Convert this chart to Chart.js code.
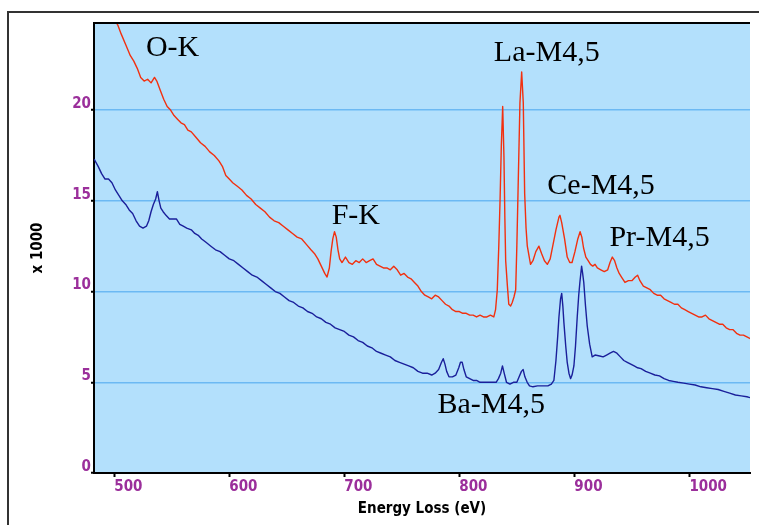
<!DOCTYPE html>
<html>
<head>
<meta charset="utf-8">
<script src="https://cdn.jsdelivr.net/npm/chart.js@4.4.1/dist/chart.umd.min.js"></script>
<style>
  html, body { margin: 0; padding: 0; background: #fff; }
  canvas { display: block; }
</style>
</head>
<body>
<canvas id="c" width="759" height="525"></canvas>
<script>
// EELS spectrum, two traces, counts in thousands

const redE = [483, 492, 500, 503, 506, 510, 514, 517, 520, 523, 526, 529, 532, 535, 537, 540, 543, 546, 549, 552,
  555, 558, 561, 564, 567, 571, 575, 579, 583, 587, 591, 594, 597, 600, 603, 607, 611, 615, 619, 623,
  627, 631, 635, 639, 643, 647, 651, 655, 659, 663, 667, 671, 674, 677, 680, 683, 685, 687, 688.5, 690,
  691.5, 693, 694.5, 696, 698, 701, 704, 707, 710, 713, 716, 719, 722, 725, 728, 731, 734, 737, 740, 743,
  746, 749, 752, 755, 758, 761, 764, 767, 770, 773, 776, 779, 782, 785, 788, 791, 794, 797, 800, 803,
  806, 809, 812, 815, 818, 821, 824, 827, 830, 831.5, 833, 834.3, 835.4, 836.5, 837.7, 838.8, 839.6, 840.3, 841.8, 843,
  844.6, 846, 847.5, 849, 850, 851, 852.7, 854.2, 855.6, 856.8, 858, 859.1, 861.9, 864, 866.5, 869.2, 871.5, 874, 876.5, 879,
  881.5, 884, 886.6, 887.5, 889, 891.5, 893.8, 896, 898, 900.5, 903, 905, 906.5, 908, 910, 912, 914, 916, 918, 920,
  923, 926, 929, 931, 933, 935, 937, 939, 941, 944, 947, 950, 953, 955, 957, 960, 963, 966, 969, 972,
  975, 978, 981, 984, 987, 990, 993, 996, 999, 1002, 1005, 1008, 1011, 1014, 1017, 1020, 1023, 1026, 1029, 1032,
  1035, 1038, 1041, 1044, 1047, 1050, 1053];
const redY = [27.0, 25.9, 25.0, 24.7, 24.2, 23.6, 23.0, 22.7, 22.3, 21.8, 21.6, 21.7, 21.5, 21.8, 21.6, 21.1, 20.6, 20.2, 20.0, 19.7,
  19.5, 19.3, 19.2, 18.9, 18.8, 18.5, 18.2, 18.0, 17.7, 17.5, 17.2, 16.9, 16.4, 16.2, 16.0, 15.8, 15.6, 15.3, 15.1, 14.8,
  14.6, 14.4, 14.1, 13.9, 13.8, 13.6, 13.4, 13.2, 13.0, 12.9, 12.6, 12.3, 12.1, 11.8, 11.4, 11.0, 10.8, 11.3, 12.2, 12.9,
  13.3, 13.0, 12.3, 11.8, 11.6, 11.9, 11.6, 11.5, 11.7, 11.6, 11.8, 11.6, 11.7, 11.8, 11.5, 11.4, 11.3, 11.3, 11.2, 11.4,
  11.2, 10.9, 11.0, 10.8, 10.7, 10.5, 10.3, 10.0, 9.8, 9.7, 9.6, 9.8, 9.7, 9.5, 9.3, 9.2, 9.0, 8.9, 8.9, 8.8,
  8.8, 8.7, 8.7, 8.6, 8.7, 8.6, 8.6, 8.7, 8.6, 9.0, 10.1, 12.5, 15.0, 18.0, 20.2, 17.4, 14.0, 11.7, 10.3, 9.3,
  9.2, 9.4, 9.7, 10.1, 12.5, 15.4, 20.4, 22.1, 20.4, 15.4, 13.5, 12.5, 11.5, 11.7, 12.2, 12.5, 12.1, 11.7, 11.5, 11.8,
  12.6, 13.4, 14.1, 14.2, 13.8, 12.9, 11.9, 11.6, 11.6, 12.2, 12.9, 13.3, 13.0, 12.4, 11.9, 11.7, 11.5, 11.4, 11.5, 11.3,
  11.2, 11.1, 11.2, 11.6, 11.9, 11.7, 11.3, 11.0, 10.8, 10.5, 10.6, 10.6, 10.8, 10.9, 10.6, 10.3, 10.2, 10.1, 9.9, 9.8,
  9.8, 9.6, 9.5, 9.4, 9.3, 9.3, 9.1, 9.0, 8.9, 8.8, 8.7, 8.6, 8.6, 8.7, 8.5, 8.4, 8.3, 8.2, 8.2, 8.0,
  7.9, 7.9, 7.7, 7.6, 7.6, 7.5, 7.4];

const blueE = [482.5, 486, 489, 492, 495, 498, 501, 504, 507, 510, 513, 516, 519, 522, 525, 528, 530, 532, 534, 536,
  537.5, 539, 540.5, 542.5, 545, 548, 551, 554, 557, 560, 563, 567, 570, 573, 576, 580, 584, 588, 592, 596,
  600, 604, 608, 612, 616, 620, 624, 628, 632, 636, 640, 644, 648, 652, 656, 660, 664, 668, 672, 676,
  680, 684, 688, 692, 696, 700, 704, 708, 712, 716, 720, 724, 728, 732, 736, 740, 744, 748, 752, 756,
  760, 764, 768, 772, 776, 779, 782, 784.5, 786, 787.5, 789, 791, 794, 797, 799.5, 801, 802.5, 804, 806, 809,
  812, 815, 818, 821, 824, 827, 830, 832, 834, 836, 837.5, 839, 841, 844, 847, 850, 852, 854, 855.5, 857,
  859, 861, 864, 868, 872, 875, 877, 880, 882.2, 884, 885.5, 886.6, 888, 889, 890, 890.9, 892.5, 893.8, 895.3, 896.7,
  898, 899.6, 901, 902.5, 903.8, 904.8, 906.3, 907.2, 908.2, 909.7, 911.2, 913.3, 915.5, 918, 922, 925, 928, 931, 934, 937,
  940, 943, 946, 949, 952, 955, 958, 962, 966, 970, 974, 978, 982, 986, 990, 995, 1000, 1005, 1010, 1015,
  1020, 1025, 1030, 1035, 1040, 1045, 1050, 1053];
const blueY = [17.3, 16.9, 16.5, 16.2, 16.2, 16.0, 15.6, 15.3, 15.0, 14.8, 14.5, 14.3, 13.9, 13.6, 13.5, 13.6, 13.9, 14.4, 14.8, 15.1,
  15.5, 15.0, 14.6, 14.4, 14.2, 14.0, 14.0, 14.0, 13.7, 13.6, 13.5, 13.4, 13.2, 13.1, 12.9, 12.7, 12.5, 12.3, 12.2, 12.0,
  11.8, 11.7, 11.5, 11.3, 11.1, 10.9, 10.8, 10.6, 10.4, 10.2, 10.0, 9.9, 9.7, 9.5, 9.4, 9.2, 9.1, 8.9, 8.8, 8.6,
  8.5, 8.3, 8.2, 8.0, 7.9, 7.8, 7.6, 7.5, 7.3, 7.2, 7.0, 6.9, 6.7, 6.6, 6.5, 6.4, 6.2, 6.1, 6.0, 5.9,
  5.8, 5.6, 5.5, 5.5, 5.4, 5.5, 5.7, 6.1, 6.3, 6.0, 5.6, 5.3, 5.3, 5.4, 5.8, 6.1, 6.1, 5.7, 5.3, 5.2,
  5.1, 5.1, 5.0, 5.0, 5.0, 5.0, 5.0, 5.0, 5.2, 5.5, 5.9, 5.5, 5.0, 4.9, 5.0, 5.0, 5.3, 5.6, 5.7, 5.3,
  5.0, 4.8, 4.75, 4.8, 4.8, 4.8, 4.8, 4.9, 5.1, 6.2, 7.5, 8.6, 9.6, 9.9, 9.2, 8.3, 7.0, 6.1, 5.5, 5.2,
  5.4, 5.9, 7.0, 8.6, 9.8, 10.5, 11.4, 11.0, 10.5, 9.2, 8.1, 7.1, 6.4, 6.5, 6.45, 6.4, 6.5, 6.6, 6.7, 6.6,
  6.4, 6.2, 6.1, 6.0, 5.9, 5.8, 5.75, 5.6, 5.5, 5.4, 5.35, 5.2, 5.1, 5.05, 5.0, 4.95, 4.9, 4.85, 4.75, 4.7,
  4.65, 4.6, 4.5, 4.4, 4.3, 4.25, 4.2, 4.15];

const xTicks = [500, 600, 700, 800, 900, 1000];
const yTicks = [0, 5, 10, 15, 20];

const edgeNames = ['O-K', 'La-M4,5', 'F-K', 'Ce-M4,5', 'Pr-M4,5', 'Ba-M4,5'];
const edgeAt = [[527.5, 23.0], [830, 22.7], [689, 13.75], [876.5, 15.35], [930.5, 12.5], [781, 3.3]];

const FONT_TICK = '"Liberation Sans Narrow", "DejaVu Sans Condensed", "DejaVu Sans", sans-serif';
const PURPLE = '#9b2f9b';
const BG = '#b3e0fc';
const GRID = '#6cb9f3';

function pts(xs, ys) {
  return xs.map((x, i) => ({ x, y: ys[i] }));
}

const framePlugin = {
  id: 'frame',
  beforeDraw(chart) {
    const { ctx, chartArea: a, width, height } = chart;
    ctx.save();
    ctx.fillStyle = '#fff';
    ctx.fillRect(0, 0, width, height);
    ctx.fillStyle = BG;
    ctx.fillRect(a.left, a.top, a.right - a.left, a.bottom - a.top);
    // outer frame
    ctx.strokeStyle = '#333';
    ctx.lineWidth = 2;
    ctx.beginPath();
    ctx.moveTo(8, height);
    ctx.lineTo(8, 12);
    ctx.lineTo(width, 12);
    ctx.stroke();
    ctx.restore();
  },
  afterDraw(chart) {
    const { ctx, chartArea: a } = chart;
    ctx.save();
    ctx.strokeStyle = '#000';
    ctx.lineWidth = 2;
    ctx.beginPath();
    ctx.moveTo(a.left - 1, a.top);
    ctx.lineTo(a.right, a.top);
    ctx.stroke();
    ctx.restore();
  },
  afterDatasetsDraw(chart) {
    const { ctx, scales: { x, y } } = chart;
    ctx.save();
    ctx.fillStyle = '#000';
    ctx.font = '30px "Liberation Serif", "DejaVu Serif", serif';
    ctx.textBaseline = 'alphabetic';
    ctx.textAlign = 'left';
    edgeNames.forEach((t, i) => {
      ctx.fillText(t, x.getPixelForValue(edgeAt[i][0]), y.getPixelForValue(edgeAt[i][1]));
    });
    ctx.restore();
  }
};

new Chart(document.getElementById('c'), {
  type: 'line',
  data: {
    datasets: [
      { data: pts(redE, redY), borderColor: '#f2300f', borderWidth: 1.4 },
      { data: pts(blueE, blueY), borderColor: '#1a1f9a', borderWidth: 1.4 }
    ]
  },
  options: {
    responsive: false,
    animation: false,
    devicePixelRatio: 1,
    elements: { point: { radius: 0 }, line: { tension: 0, borderJoinStyle: 'round' } },
    layout: { padding: { top: 23, right: 9, left: 0, bottom: 0 } },
    plugins: { legend: { display: false }, tooltip: { enabled: false } },
    scales: {
      x: {
        type: 'linear',
        min: 482.4,
        max: 1052.7,
        afterBuildTicks: s => { s.ticks = xTicks.map(v => ({ value: v })); },
        afterFit: s => { s.height = 52; },
        ticks: {
          align: 'start',
          padding: 1,
          color: PURPLE,
          font: { family: FONT_TICK, size: 15, weight: 'bold' },
          maxRotation: 0,
          callback: v => String(v)
        },
        grid: { drawOnChartArea: false, tickColor: '#000', tickLength: 4, tickWidth: 2 },
        border: { color: '#000', width: 2 },
        title: {
          display: true,
          text: 'Energy Loss (eV)',
          color: '#000',
          font: { family: FONT_TICK, size: 15, weight: 'bold' },
          padding: { top: 0, bottom: 7 }
        }
      },
      y: {
        type: 'linear',
        min: 0,
        max: 24.8,
        afterBuildTicks: s => { s.ticks = yTicks.map(v => ({ value: v })); },
        afterFit: s => { s.width = 94; },
        ticks: {
          padding: 0,
          labelOffset: -6,
          color: PURPLE,
          font: { family: FONT_TICK, size: 15, weight: 'bold' },
          callback: v => String(v)
        },
        grid: {
          color: c => (c.tick && c.tick.value === 0 ? 'rgba(0,0,0,0)' : GRID),
          lineWidth: 1.5,
          tickColor: '#000',
          tickLength: 3,
          tickWidth: 2
        },
        border: { color: '#000', width: 2 },
        title: {
          display: true,
          text: 'x 1000',
          color: '#000',
          font: { family: FONT_TICK, size: 15, weight: 'bold' },
          padding: { top: 29, bottom: 0 }
        }
      }
    }
  },
  plugins: [framePlugin]
});
</script>
</body>
</html>
